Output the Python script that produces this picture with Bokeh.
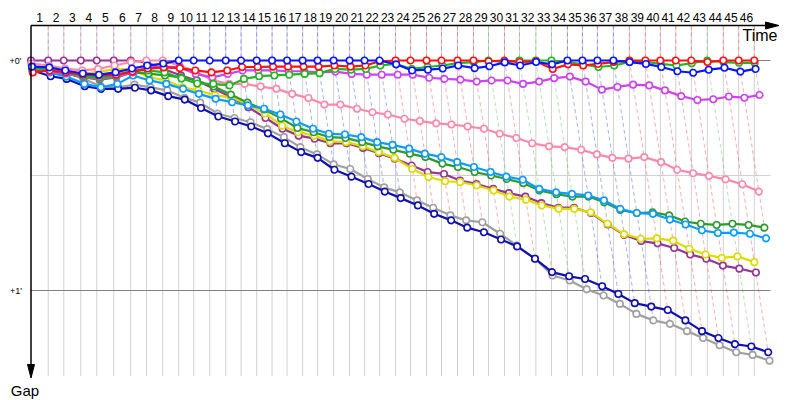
from bokeh.plotting import figure
from bokeh.models import Range1d
from bokeh.embed import file_html
from bokeh.resources import INLINE
from bokeh.core.properties import value

# ---------------- data (seconds) ----------------
LAP_TIMES = [29.2, 26.4, 28.8, 27.1, 28.8, 28.8, 26.6, 27.6, 27.1, 25.4,
             27.1, 27.1, 26.1, 26.4, 26.1, 25.4, 26.4, 25.4, 27.1, 27.1,
             25.4, 25.4, 27.1, 25.4, 27.1, 25.4, 27.1, 27.1, 25.4, 27.1,
             25.4, 27.8, 26.4, 27.1, 25.4, 25.4, 27.1, 27.1, 27.1, 25.4,
             26.1, 26.4, 27.1, 27.1, 26.1, 26.4]
LAP_LABELS = [str(i) for i in range(1, 47)]

gray_gaps = [1.7, 2.2, 2.9, 4.8, 6.7, 7.0, 6.3, 7.0, 7.8, 9.7, 11.0, 13.9, 15.0, 16.1, 17.9,
             20.0, 22.6, 24.5, 27.1, 28.3, 30.9, 33.1, 34.4, 36.5, 38.4, 40.4, 41.7, 42.2, 45.2, 48.3,
             51.7, 56.1, 57.4, 59.7, 61.3, 63.5, 66.1, 67.8, 68.7, 70.6, 72.4, 74.3, 76.1, 76.8, 78.3]
navy_gaps = [2.6, 4.1, 4.8, 6.7, 7.4, 7.4, 7.1, 7.8, 9.3, 10.2, 12.4, 14.6, 15.9, 17.2, 19.0,
             21.6, 23.9, 25.4, 28.5, 30.3, 32.2, 34.2, 35.9, 37.8, 40.0, 41.7, 43.6, 44.8, 46.7, 48.5,
             51.7, 55.2, 56.3, 57.0, 58.9, 60.9, 63.3, 64.2, 65.1, 67.8, 70.6, 72.4, 74.0, 74.6, 76.1]
purple_gaps = [0, 0, 0, 0, 0, 0, 0, 0.5, 2.3, 3.9, 5.2, 7.4, 9.6, 12.2, 15.0,
               17.8, 19.6, 20.4, 21.6, 21.6, 22.8, 24.2, 25.6, 27.4, 29.1, 29.6, 31.3, 32.2, 33.5, 34.6,
               35.5, 37.2, 38.4, 38.4, 39.8, 42.8, 45.5, 47.1, 47.7, 48.9, 50.6, 51.7, 53.5, 54.3, 55.3]
yellow_gaps = [1.3, 2.1, 2.9, 3.5, 2.9, 2.3, 2.2, 4.4, 5.2, 7.0, 7.8, 9.1, 9.6, 11.5, 13.8,
               17.0, 18.7, 19.6, 21.1, 21.3, 22.4, 23.9, 25.4, 28.3, 30.4, 31.5, 31.7, 32.6, 33.9, 35.5,
               36.3, 37.8, 38.7, 38.7, 39.6, 42.6, 45.3, 46.5, 46.4, 47.0, 49.1, 50.6, 51.5, 51.1, 52.6]
darkgreen_gaps = [1.8, 2.6, 3.4, 4.4, 5.0, 4.4, 3.1, 3.4, 3.9, 4.4, 5.2, 6.8, 8.9, 11.0, 12.8,
                  15.1, 17.6, 18.7, 20.0, 20.2, 21.3, 22.4, 23.3, 24.3, 25.2, 26.9, 27.8, 29.1, 30.0, 30.9,
                  32.0, 33.9, 34.9, 35.5, 35.5, 37.0, 39.0, 39.8, 39.6, 40.4, 42.0, 42.6, 42.9, 42.6, 42.9,
                  43.6]
lightblue_gaps = [1.8, 3.1, 4.2, 6.1, 7.0, 6.1, 3.9, 5.2, 6.1, 7.4, 8.7, 10.0, 10.9, 11.7, 12.6,
                  14.1, 15.9, 17.8, 19.1, 19.3, 20.0, 21.3, 22.0, 23.0, 24.3, 25.2, 26.5, 27.8, 29.1, 30.3,
                  31.1, 33.5, 34.4, 34.8, 35.2, 36.5, 38.7, 39.8, 40.0, 41.5, 42.8, 44.3, 45.0, 44.9, 45.2,
                  46.4]
pink_gaps = [0.8, 1.3, 2.1, 2.6, 2.2, 1.3, 0.4, 0, 0, 1.3, 2.9, 5.2, 6.1, 6.1, 6.8,
             7.4, 8.7, 9.8, 11.5, 11.5, 12.6, 13.5, 14.1, 15.2, 15.8, 16.4, 16.7, 17.2, 17.8, 19.1,
             20.2, 21.6, 22.4, 22.6, 23.3, 24.5, 25.4, 25.6, 25.2, 26.5, 28.5, 29.4, 30.1, 31.0, 32.3,
             34.2]
violet_gaps = [2.3, 2.9, 3.4, 4.4, 4.7, 4.2, 3.1, 1.8, 1.6, 1.8, 3.5, 4.4, 3.5, 2.6, 2.6,
               2.6, 2.8, 2.8, 3.1, 2.9, 3.5, 3.7, 3.7, 3.7, 3.7, 4.5, 4.8, 5.0, 5.5, 5.2,
               5.2, 6.1, 5.5, 4.6, 4.2, 5.5, 7.6, 6.9, 6.3, 6.5, 7.8, 9.3, 10.3, 10.1, 9.4,
               9.7, 9.0]
green_gaps = [2.1, 2.6, 3.1, 4.2, 4.4, 3.9, 2.6, 2.6, 3.1, 4.7, 6.0, 6.1, 6.5, 4.8, 4.1,
              3.9, 3.7, 3.5, 3.3, 2.2, 2.4, 2.2, 1.3, 0.9, 2.2, 1.7, 1.3, 0.7, 0.4, 0,
              0.4, 0, 0, 0, 0.4, 1.0, 1.7, 1.3, 0.4, 0.4, 0.9, 1.3, 0.7, 0, 0.4,
              0.6, 0.6]
red_gaps = [3.1, 2.6, 3.1, 3.7, 3.9, 3.7, 2.9, 2.1, 1.8, 2.0, 2.6, 3.1, 2.6, 1.7, 1.7,
            1.6, 1.6, 1.6, 1.6, 1.3, 1.6, 1.3, 0.2, 0, 0, 0, 0, 0, 0, 0.2,
            0, 0.4, 0.2, 2.2, 1.0, 1.3, 0.9, 0.4, 0, 0, 0, 0, 0, 0.4, 0,
            0, 0]
blue_gaps = [1.6, 1.8, 2.6, 3.4, 3.7, 3.1, 2.1, 1.3, 0.8, 0, 0, 0, 0, 0, 0,
             0, 0, 0, 0, 0, 0, 0, 0, 1.0, 2.6, 2.4, 2.1, 1.3, 2.0, 1.5,
             0.5, 1.3, 0.4, 1.0, 0, 0, 0, 0, 0.4, 0.9, 1.7, 2.8, 3.2, 2.4, 1.9,
             2.9, 2.2]

DRIVERS = [  # drawing order
    ("gray", "#a0a0a0", gray_gaps),
    ("navy", "#1010b0", navy_gaps),
    ("purple", "#993399", purple_gaps),
    ("yellow", "#dcdc00", yellow_gaps),
    ("darkgreen", "#2e9a2e", darkgreen_gaps),
    ("lightblue", "#0a9cff", lightblue_gaps),
    ("pink", "#ff88aa", pink_gaps),
    ("violet", "#cc44f0", violet_gaps),
    ("green", "#22b422", green_gaps),
    ("red", "#ff1010", red_gaps),
    ("blue", "#0a14ff", blue_gaps),
]

# ---------------- layout ----------------
W, H = 800, 400
KX = 0.59            # px per second along time
KY = 230.0 / 60.0    # px per second of gap
ORIGIN_X = 30.5      # canvas px of race start
ORIGIN_Y = 60.0      # canvas px of zero gap


def dx(px):  # canvas px -> time units
    return (px - ORIGIN_X) / KX


def dy(py):  # canvas px -> gap units
    return (py - ORIGIN_Y) / KY


p = figure(width=W, height=H, output_backend="svg", toolbar_location=None,
           x_range=Range1d(dx(0), dx(W)), y_range=Range1d(dy(H), dy(0)),
           x_axis_type=None, y_axis_type=None, min_border=0,
           outline_line_color=None, background_fill_color="white",
           border_fill_color="white")

# leader cumulative times
T = [0.0]
for lt in LAP_TIMES:
    T.append(T[-1] + lt)
NL = len(LAP_TIMES)

TOP = dy(25)
BOTTOM = dy(375.5)
RIGHT = dx(770)

# vertical lap grid lines
p.segment(x0=T[1:], y0=[TOP] * NL, x1=T[1:], y1=[BOTTOM] * NL,
          line_color="#d0d0d0", line_width=1)
# horizontal lines
p.segment(x0=[0, 0, 0], y0=[0, 30, 60], x1=[RIGHT] * 3, y1=[0, 30, 60],
          line_color=["#808080", "#d0d0d0", "#808080"], line_width=1)

# dashed lap lines coloured by the leader of that lap
dxs, dys, dcol = [], [], []
for k in range(1, NL + 1):
    best = None
    gmax = 0.0
    for name, col, g in DRIVERS:
        if len(g) > k:
            if best is None or g[k] < best[0]:
                best = (g[k], col)
            gmax = max(gmax, g[k])
    dxs.append([T[k], T[k], T[k] + gmax])
    dys.append([TOP, 0, gmax])
    dcol.append(best[1])
p.multi_line(xs=dxs, ys=dys, line_color=dcol, line_alpha=0.35, line_width=1,
             line_dash="4 3")

# driver traces
for name, col, g in DRIVERS:
    xs = [T[k] + g[k] for k in range(len(g))]
    p.line(xs, g, line_color=col, line_width=2.2, line_join="round")
    p.scatter(xs, g, size=6.5, marker="circle", fill_color="white",
              line_color=col, line_width=1.6)

# axes with arrow heads
p.line([0, dx(768)], [TOP, TOP], line_color="black", line_width=1.5)
p.patch([dx(765), dx(778.5), dx(765)], [dy(21.5), dy(25), dy(28.5)],
        fill_color="black", line_color="black")
p.line([0, 0], [TOP, dy(368)], line_color="black", line_width=1.5)
p.patch([dx(27), dx(30.5), dx(34)], [dy(364), dy(377.5), dy(364)],
        fill_color="black", line_color="black")

FONT = value("Liberation Sans")
mid = [(T[k - 1] + T[k]) / 2 for k in range(1, NL + 1)]
p.text(x=mid, y=[dy(17)] * NL, text=LAP_LABELS, text_font=FONT,
       text_font_size="12px", text_align="center", text_baseline="middle",
       text_color="black")
p.text(x=[dx(777)], y=[dy(35)], text=["Time"], text_font=FONT,
       text_font_size="16px", text_align="right", text_baseline="middle")
p.text(x=[dx(24.5)], y=[dy(390)], text=["Gap"], text_font=FONT,
       text_font_size="15px", text_align="center", text_baseline="alphabetic")
p.text(x=[dx(21), dx(21.5)], y=[0, 60], text=["+0'", "+1'"], text_font=FONT,
       text_font_size="9px", text_align="right", text_baseline="middle")

open("out.html", "w").write(file_html(p, INLINE))
